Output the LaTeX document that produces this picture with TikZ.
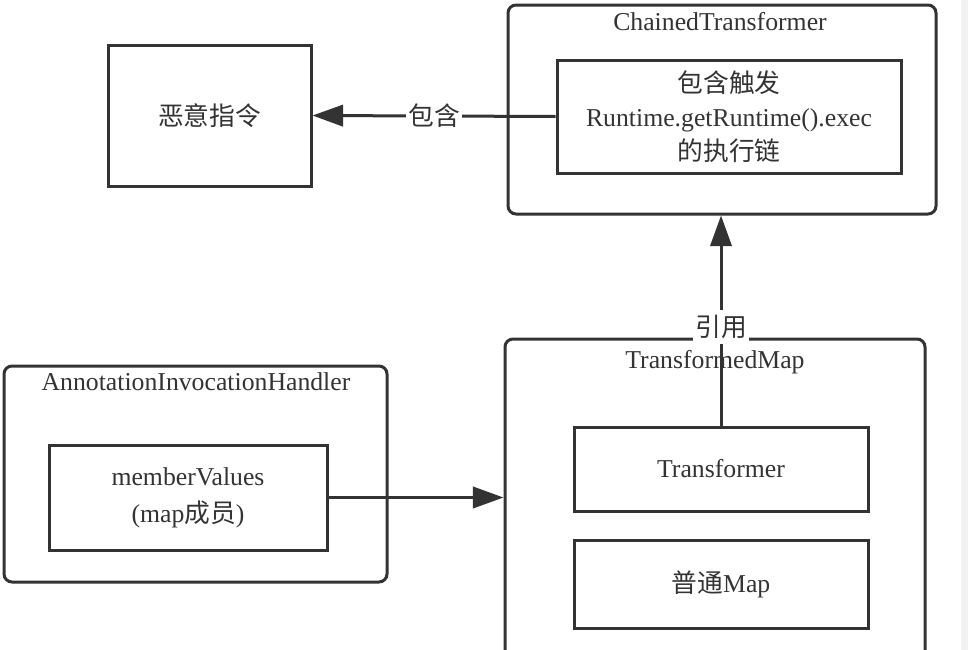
\documentclass[tikz,border=0pt]{standalone}
\usepackage{fontspec}
\setmainfont{Liberation Serif}
\newfontfamily\cjk{Noto Sans CJK SC}
\usetikzlibrary{arrows.meta}
\definecolor{ink}{HTML}{333333}
\definecolor{strip}{HTML}{F2F2F2}
\tikzset{
  box/.style={draw=ink, line width=2.25pt, inner sep=0pt, text=ink, align=center,
    font=\fontsize{19.3}{25.5}\selectfont},
  outer/.style={box, rounded corners=6pt},
  title/.style={text=ink, inner sep=1pt, font=\fontsize{19.3}{25}\selectfont},
  conn/.style={draw=ink, line width=2.25pt, -{Triangle[length=23pt,width=16pt]}},
  lbl/.style={fill=white, text=ink, inner sep=2pt, font=\fontsize{19.3}{25}\selectfont\cjk},
}
\begin{document}
\begin{tikzpicture}[x=0.75pt,y=-0.75pt]
\def\u{0.75pt}
\useasboundingbox (0,0) rectangle (968,650);
\clip (0,0) rectangle (968,650);
\fill[strip] (961,0) rectangle (968,650);
% boxes
\node[box, minimum width=203*\u, minimum height=141*\u] (evil) at (209.5,115.5) {\cjk 恶意指令};
\node[outer, minimum width=428*\u, minimum height=209*\u] (chained) at (722,109.5) {};
\node[title] (chainedT) at (720,22) {ChainedTransformer};
\node[box, minimum width=344*\u, minimum height=113*\u] (chain) at (729,116.5)
  {{\cjk 包含触发}\\Runtime.getRuntime().exec\\{\cjk 的执行链}};
\node[outer, minimum width=383*\u, minimum height=216*\u] (aih) at (195.5,474) {};
\node[title] (aihT) at (196,382) {AnnotationInvocationHandler};
\node[box, minimum width=278*\u, minimum height=105*\u, font=\fontsize{19.3}{27.5}\selectfont] (mv) at (188,497.5)
  {memberValues\\(map{\cjk 成员})};
\node[outer, minimum width=420*\u, minimum height=361*\u] (tmap) at (715,519.5) {};
\node[title] (tmapT) at (715,362) {TransformedMap};
\node[box, minimum width=294*\u, minimum height=84*\u] (tr) at (721,469) {Transformer};
\node[box, minimum width=294*\u, minimum height=88*\u] (pmap) at (721,584) {{\cjk 普通}Map};
% connectors
\draw[conn] (chain.west) -- node[lbl] {包含} (evil.east);
\draw[conn] (mv.east) -- (mv.east -| tmap.west);
\draw[conn] (tr.north) -- node[lbl, pos=0.47, minimum height=34*\u] {引用} (tr.north |- chained.south);
\end{tikzpicture}
\end{document}
